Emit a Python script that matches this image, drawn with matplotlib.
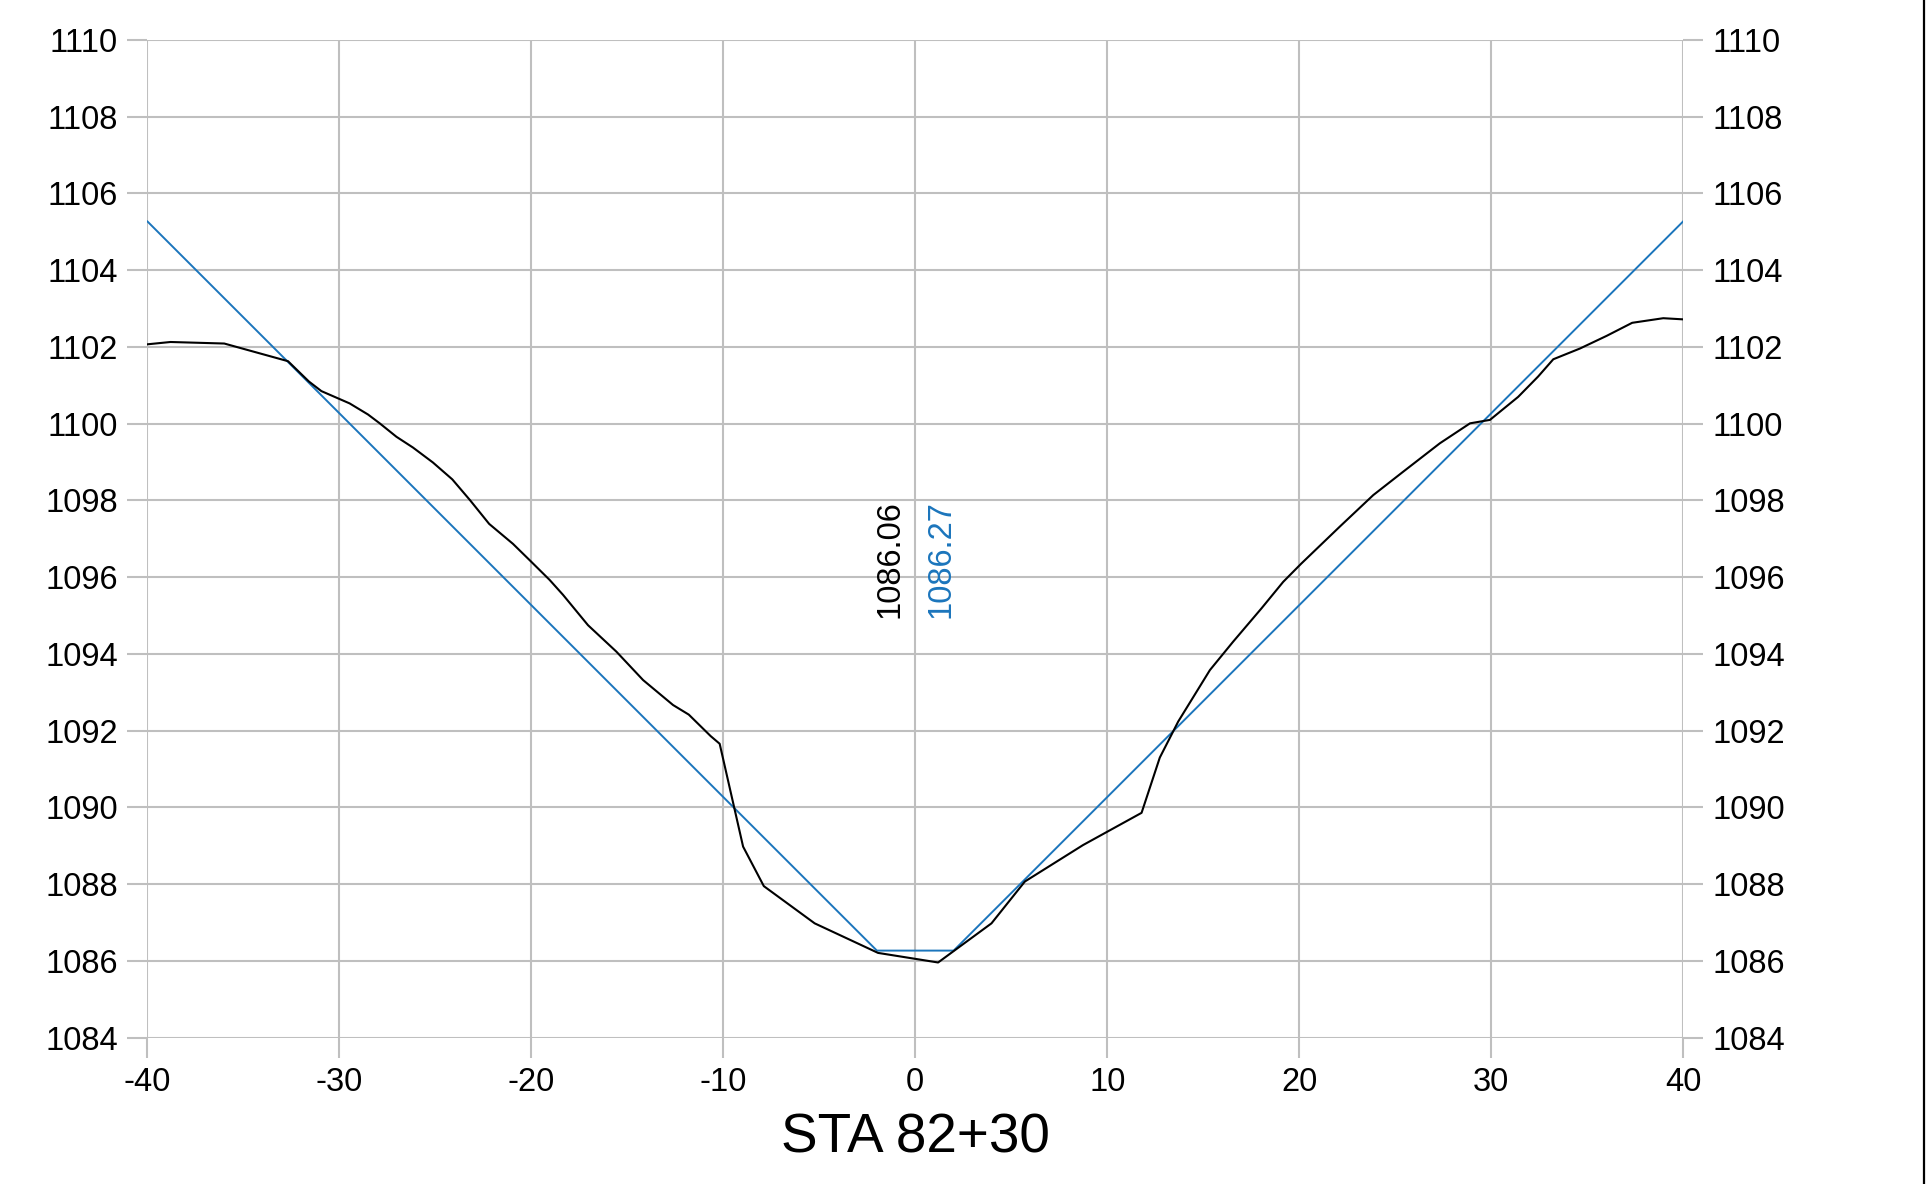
import matplotlib
matplotlib.use("Agg")
import matplotlib.pyplot as plt
from matplotlib.lines import Line2D

plt.rcParams["font.family"] = ["Liberation Sans", "DejaVu Sans"]
plt.rcParams["axes.unicode_minus"] = False

# Existing ground profile (offset ft, elevation ft)
ground_offset = [-40, -38.8, -36.0, -32.68, -31.59, -30.94, -29.47, -28.51, -27.9,
                 -27.03, -26.17, -25.13, -24.12, -23.2, -22.2, -20.96, -20.0, -19.05,
                 -18.35, -17.05, -15.57, -14.18, -12.62, -11.8, -10.66, -10.19, -8.97,
                 -7.89, -5.24, -1.94, 1.19, 3.97, 5.71, 8.74, 11.79, 12.74, 13.7, 15.35,
                 16.56, 18.04, 19.17, 20.1, 22.12, 23.86, 25.42, 27.33, 28.9,
                 29.94, 31.41, 32.45, 33.24, 34.63, 36.02, 37.35, 38.97, 40.0]
ground_elev = [1102.07, 1102.13, 1102.09, 1101.63, 1101.10, 1100.85, 1100.53, 1100.24,
               1100.01, 1099.66, 1099.38, 1098.99, 1098.55, 1098.01, 1097.39, 1096.87,
               1096.40, 1095.93, 1095.54, 1094.75, 1094.06, 1093.32, 1092.67, 1092.42,
               1091.86, 1091.66, 1088.98, 1087.95, 1086.98, 1086.21, 1085.96, 1086.98,
               1088.07, 1089.02, 1089.86, 1091.30, 1092.24, 1093.58, 1094.32, 1095.19,
               1095.88, 1096.35, 1097.32, 1098.14, 1098.75, 1099.49, 1100.01,
               1100.10, 1100.70, 1101.23, 1101.68, 1101.96, 1102.29, 1102.63, 1102.75,
               1102.72]

# Design channel section
design_offset = [-40, -2, 2, 40]
design_elev = [1105.27, 1086.27, 1086.27, 1105.27]

# Centerline elevations
ground_cl = 1086.06
design_cl = 1086.27

x_ticks = [-40, -30, -20, -10, 0, 10, 20, 30, 40]
y_ticks = list(range(1084, 1111, 2))
station = "STA 82+30"

ground_color = "#000000"
design_color = "#1b75bc"
grid_color = "#bfbfbf"

fig = plt.figure(figsize=(19.27, 11.84), dpi=100)
ax = fig.add_axes([0.07654, 0.12356, 0.79686, 0.84266])

ax.set_xlim(-40, 40)
ax.set_ylim(1084, 1110)
ax.set_xticks(x_ticks)
ax.set_yticks(y_ticks)
ax.set_xticklabels([str(v) for v in x_ticks])
ax.set_yticklabels([str(v) for v in y_ticks])

for s in ax.spines.values():
    s.set_visible(False)
ax.grid(True, color=grid_color, linewidth=1.5, zorder=0)
ax.set_axisbelow(True)
ax.tick_params(axis="both", length=14.4, width=1.5, color=grid_color,
               labelsize=23.5, labelcolor="black")
ax.tick_params(axis="y", left=True, right=True, labelleft=True, labelright=True, pad=7)
ax.tick_params(axis="x", pad=7)

ax.plot(design_offset, design_elev, color=design_color, linewidth=1.4, zorder=3)
ax.plot(ground_offset, ground_elev, color=ground_color, linewidth=1.5, zorder=4)

label_y = 1094.94
ax.annotate(f"{ground_cl:.2f}", xy=(0, label_y), xytext=(-10, 0),
            textcoords="offset pixels", rotation=90, ha="right", va="bottom",
            fontsize=23.5, color=ground_color)
ax.annotate(f"{design_cl:.2f}", xy=(0, label_y), xytext=(10, 0),
            textcoords="offset pixels", rotation=90, ha="left", va="bottom",
            fontsize=23.5, color=design_color)

fig.text(0.47496, 0.0262, station, ha="center", va="baseline", fontsize=39.5)

# Frame edge on the right
fig.add_artist(Line2D([1924 / 1927, 1924 / 1927], [0, 1], color="black",
                      linewidth=1.6, transform=fig.transFigure))

fig.savefig("out.png", dpi=100)
